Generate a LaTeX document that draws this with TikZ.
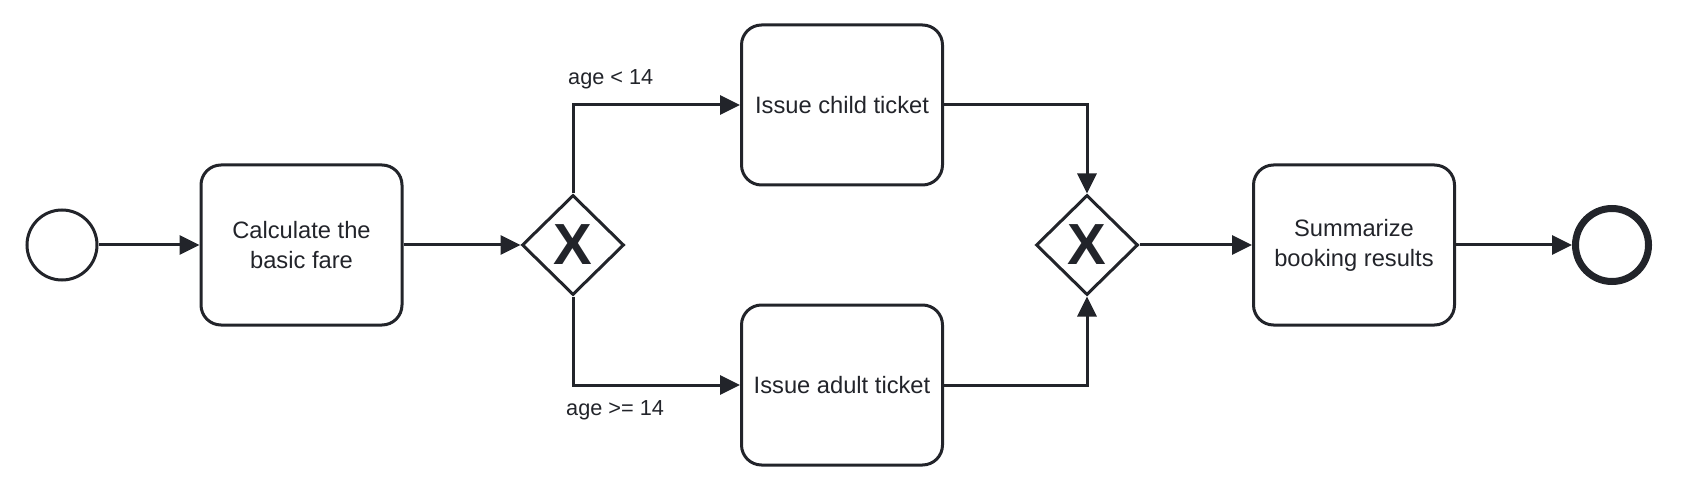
\documentclass[tikz,border=0pt]{standalone}
\usepackage{fontspec}
\setmainfont{Liberation Sans}
\usetikzlibrary{arrows.meta,shapes.geometric}
\definecolor{ink}{HTML}{22242A}
\begin{document}
\begin{tikzpicture}[x=1pt,y=-1pt,
  every node/.style={text=ink},
  task/.style={draw=ink, line width=3pt, rounded corners=20pt, minimum width=201pt, minimum height=160pt, align=center, font=\fontsize{23.7}{30}\selectfont, inner sep=0pt},
  gate/.style={draw=ink, line width=3pt, diamond, minimum width=102pt, minimum height=100pt, inner sep=0pt},
  gx/.style={font=\fontsize{58}{58}\selectfont\bfseries, inner sep=0pt},
  flow/.style={draw=ink, line width=3pt, -{Triangle[length=20pt,width=19pt]}},
  lbl/.style={font=\fontsize{21.7}{26}\selectfont, inner sep=0pt, anchor=west},
  event/.style={circle, draw=ink, inner sep=0pt},
]
\useasboundingbox (0,0) rectangle (1686,494);
\node[event, line width=3pt, minimum size=70pt] (start) at (62,245) {};
\node[task] (calc) at (301.5,245) {Calculate the\\basic fare};
\node[gate] (g1) at (573,245) {};
\node[gx] (x1) at (573,245) {X};
\node[task] (child) at (842,105) {Issue child ticket};
\node[task] (adult) at (842,385) {Issue adult ticket};
\node[gate] (g2) at (1087,245) {};
\node[gx] (x2) at (1087,245) {X};
\node[task] (sum) at (1354,245) {Summarize\\booking results};
\node[event, line width=7pt, minimum size=73pt] (end) at (1612,245) {};
\node[lbl] (l1) at (568,79) {age < 14};
\node[lbl] (l2) at (566,410) {age >= 14};
\draw[flow] (start) -- (calc);
\draw[flow] (calc) -- (g1);
\draw[flow] (g1.north) |- (child.west);
\draw[flow] (g1.south) |- (adult.west);
\draw[flow] (child.east) -| (g2.north);
\draw[flow] (adult.east) -| (g2.south);
\draw[flow] (g2) -- (sum);
\draw[flow] (sum) -- (end);
\end{tikzpicture}
\end{document}
